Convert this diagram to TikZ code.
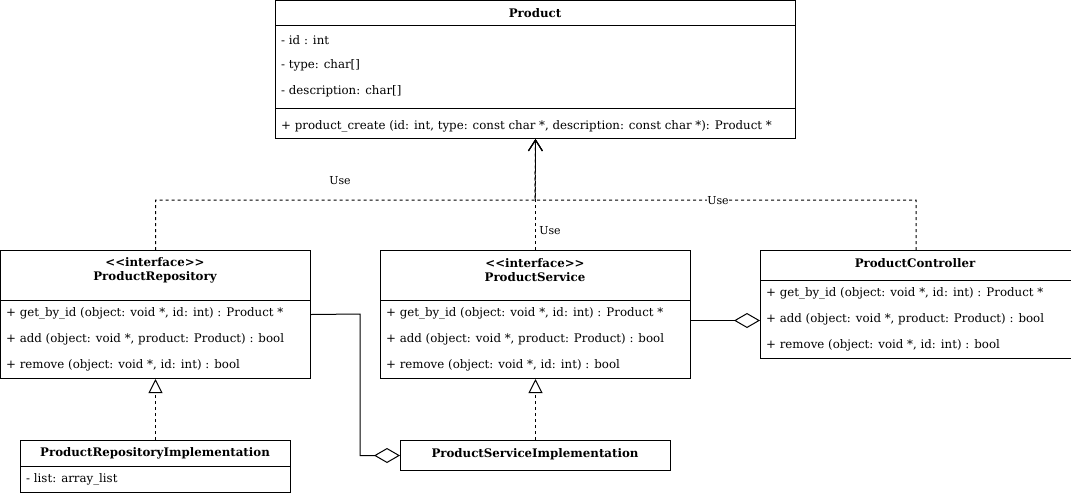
\documentclass[tikz,border=0pt]{standalone}
\usepackage{fontspec}
\setmainfont{DejaVu Serif}
\usetikzlibrary{arrows.meta}
\begin{document}
\begin{tikzpicture}[x=1pt,y=-1pt,
  box/.style={draw,line width=1pt,anchor=north west,inner sep=0pt},
  attr/.style={anchor=west,inner sep=0pt,font=\fontsize{11.8}{14}\selectfont},
  ttl/.style={anchor=center,inner sep=0pt,align=center,font=\fontsize{11.8}{14}\selectfont\bfseries},
  lbl/.style={inner sep=1pt,font=\fontsize{11}{13}\selectfont},
  sep/.style={line width=1pt},
  use/.style={line width=1pt,dash pattern=on 3pt off 3pt,-{Straight Barb[length=11pt,width=14pt,line width=1pt]}},
  real/.style={line width=1pt,dash pattern=on 3pt off 3pt,-{Triangle[open,length=14pt,width=14pt,line width=1pt,fill=white]}},
  agg/.style={line width=1pt,-{Diamond[open,length=26pt,width=15pt,line width=1pt,fill=white]}}
]
\useasboundingbox[fill=white] (0,0) rectangle (1071,496);

% Product
\node[box,minimum width=520pt,minimum height=138pt] (P) at (275,0) {};
\draw[sep] (275,25) -- (795,25);
\draw[sep] (275,108) -- (795,108);
\node[ttl] (Pt) at (535,13) {Product};
\node[attr] (P1) at (281,40) {- id : int};
\node[attr] (P2) at (281,65) {- type: char[]};
\node[attr] (P3) at (281,91) {- description: char[]};
\node[attr] (P4) at (281,126) {+ product\_create (id: int, type: const char *, description: const char *): Product *};

% ProductRepository
\node[box,minimum width=310pt,minimum height=128pt] (R) at (0,250) {};
\draw[sep] (0,300) -- (310,300);
\node[ttl] (Rt) at (155,270) {{<}{<}interface{>}{>}\\ProductRepository};
\node[attr] (R1) at (6,313) {+ get\_by\_id (object: void *, id: int) : Product *};
\node[attr] (R2) at (6,339) {+ add (object: void *, product: Product) : bool};
\node[attr] (R3) at (6,365) {+ remove (object: void *, id: int) : bool};

% ProductService
\node[box,minimum width=310pt,minimum height=128pt] (S) at (380,250) {};
\draw[sep] (380,300) -- (690,300);
\node[ttl] (St) at (535,270) {{<}{<}interface{>}{>}\\ProductService};
\node[attr] (S1) at (386,313) {+ get\_by\_id (object: void *, id: int) : Product *};
\node[attr] (S2) at (386,339) {+ add (object: void *, product: Product) : bool};
\node[attr] (S3) at (386,365) {+ remove (object: void *, id: int) : bool};

% ProductController
\node[box,minimum width=311pt,minimum height=108pt] (C) at (760,250) {};
\draw[sep] (760,280) -- (1071,280);
\node[ttl] (Ct) at (915,263) {ProductController};
\node[attr] (C1) at (766,293) {+ get\_by\_id (object: void *, id: int) : Product *};
\node[attr] (C2) at (766,319) {+ add (object: void *, product: Product) : bool};
\node[attr] (C3) at (766,345) {+ remove (object: void *, id: int) : bool};

% ProductRepositoryImplementation
\node[box,minimum width=270pt,minimum height=52pt] (RI) at (20,440) {};
\draw[sep] (20,466) -- (290,466);
\node[ttl] (RIt) at (155,453) {ProductRepositoryImplementation};
\node[attr] (RI1) at (26,479) {- list: array\_list};

% ProductServiceImplementation
\node[box,minimum width=270pt,minimum height=30pt] (SI) at (400,440) {};
\node[ttl] (SIt) at (535,454) {ProductServiceImplementation};

% connectors
\coordinate (J) at (535,200);
\coordinate (A) at (360,314);
\draw[use] (R.north) |- (J) -- (P.south);
\draw[use] (C.north) |- (J) -- (P.south);
\draw[use] (S.north) -- (P.south);
\node[lbl] (L1) at (340,181) {Use};
\node[lbl,fill=white,inner sep=0pt] (L2) at (718,201) {Use};
\node[lbl] (L3) at (550,231) {Use};

\draw[real] (RI.north) -- (R.south);
\draw[real] (SI.north) -- (S.south);
\draw[agg] (R.east) -- (A) |- (SI.west);
\draw[agg] ([yshift=-6pt]S.east) -- ([yshift=-16pt]C.west);
\end{tikzpicture}
\end{document}
